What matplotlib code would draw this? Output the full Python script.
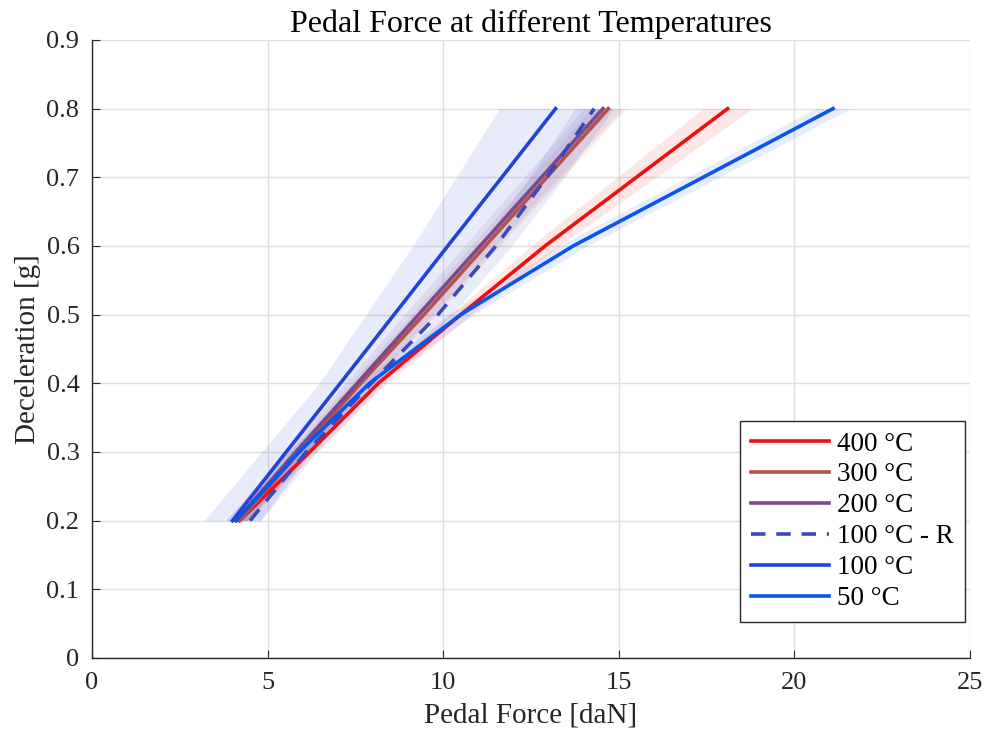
import matplotlib.pyplot as plt
import numpy as np

plt.rcParams['font.family'] = ['Liberation Serif', 'DejaVu Serif']

decel = [0.2, 0.3, 0.4, 0.5, 0.6, 0.7, 0.8]

labels = ['400 °C', '300 °C', '200 °C', '100 °C - R', '100 °C', '50 °C']
colors = ['#ee1010', '#b5504a', '#7a4a8c', '#3a48c0', '#2244d4', '#0a55ee']
styles = ['-', '-', '-', '--', '-', '-']

f400 = [4.2, 6.2, 8.15, 10.5, 12.9, 15.5, 18.1]
f300 = [4.2, 5.9, 7.65, 9.45, 11.2, 12.95, 14.7]
f200 = [4.1, 5.8, 7.55, 9.3, 11.05, 12.8, 14.55]
f100r = [4.5, 6.1, 7.95, 9.85, 11.5, 12.95, 14.3]
f100 = [4.0, 5.53, 7.07, 8.6, 10.13, 11.67, 13.2]
f50 = [4.1, 5.9, 7.9, 10.5, 13.7, 17.4, 21.1]

# band half widths (std) per series
s400 = [0.2, 0.2, 0.25, 0.3, 0.4, 0.55, 0.7]
s300 = [0.3, 0.3, 0.3, 0.35, 0.4, 0.45, 0.5]
s200 = [0.3, 0.3, 0.35, 0.4, 0.45, 0.5, 0.55]
s100r = [0.3, 0.3, 0.35, 0.4, 0.45, 0.5, 0.55]
s100 = [0.8, 0.7, 0.6, 0.8, 1.0, 1.3, 1.6]
s50 = [0.3, 0.3, 0.3, 0.35, 0.4, 0.45, 0.5]

forces = [f400, f300, f200, f100r, f100, f50]
spreads = [s400, s300, s200, s100r, s100, s50]

fig = plt.figure(figsize=(9.87, 7.36), dpi=100)
plt.subplots_adjust(left=0.0932, right=0.9828, top=0.9457, bottom=0.106)
ax = plt.gca()

for f, s, c in zip(forces, spreads, colors):
    f = np.array(f)
    s = np.array(s)
    ax.fill_betweenx(decel, f - s, f + s, color=c, alpha=0.1, linewidth=0)

for f, c, ls, lab in zip(forces, colors, styles, labels):
    ax.plot(f, decel, color=c, linestyle=ls, linewidth=2.6, label=lab,
            dashes=(4, 3) if ls == '--' else (None, None))

ax.set_xlim(0, 25)
ax.set_ylim(0, 0.9)
ax.set_xticks(np.arange(0, 26, 5))
ax.set_yticks(np.arange(0, 0.91, 0.1))
ax.set_yticklabels(['0'] + ['%.1f' % v for v in np.arange(0.1, 0.91, 0.1)])
ax.grid(True, color='#e0e0e0', linewidth=1.0)
ax.set_axisbelow(True)
ax.spines['top'].set_visible(False)
ax.spines['right'].set_visible(False)
for sp in ['left', 'bottom']:
    ax.spines[sp].set_color('#262626')
    ax.spines[sp].set_linewidth(1.0)
ax.tick_params(direction='in', labelsize=19, colors='#262626', length=6)
ax.tick_params(axis='x', pad=10)
ax.tick_params(axis='y', pad=9)

ax.set_xlabel('Pedal Force [daN]', fontsize=21, color='#262626', labelpad=6)
ax.set_ylabel('Deceleration [g]', fontsize=21, color='#262626', labelpad=4)
ax.set_title('Pedal Force at different Temperatures', fontsize=23, pad=6)

leg = ax.legend(loc='lower right', bbox_to_anchor=(0.994, 0.058), fontsize=19.5,
                fancybox=False, framealpha=1, edgecolor='#262626',
                handlelength=2.9, labelspacing=0.22, borderaxespad=0.0,
                handletextpad=0.3, borderpad=0.4)
leg.get_frame().set_linewidth(1.0)

plt.savefig('out.png')
